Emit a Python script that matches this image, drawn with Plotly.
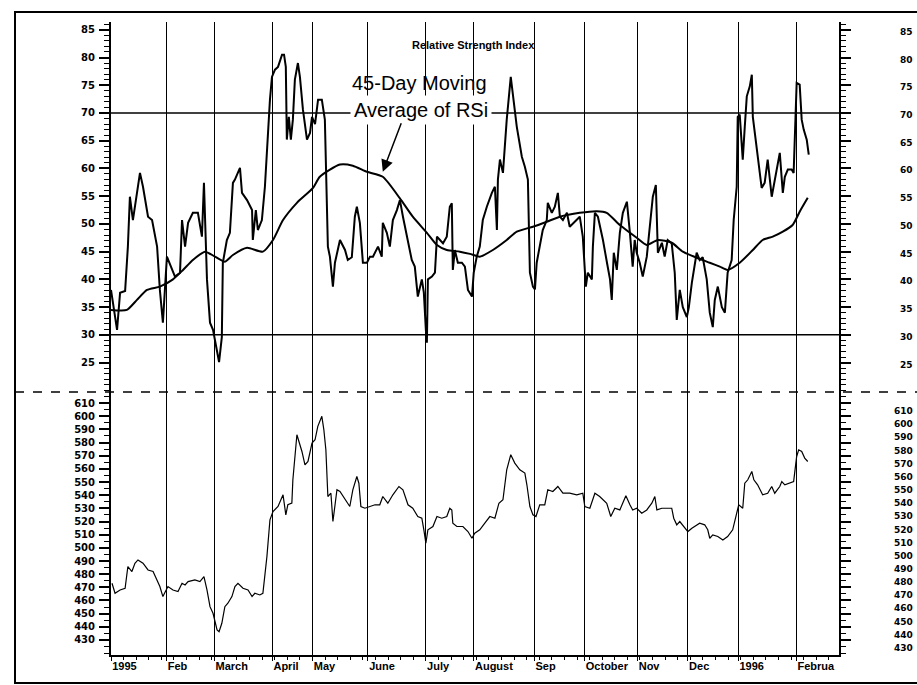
import plotly.graph_objects as go

# ---------------- data (x = trading-session index from 2 Jan 1995) ----------------
month_sessions = [0, 22, 41, 64, 80, 102, 125, 144, 168, 188, 209, 229, 249, 272]
month_labels = ["1995", "Feb", "March", "April", "May", "June", "July", "August",
                "Sep", "October", "Nov", "Dec", "1996", "Februa"]

rsi_ticks = [85, 80, 75, 70, 65, 60, 55, 50, 45, 40, 35, 30, 25]
price_ticks = [610, 600, 590, 580, 570, 560, 550, 540, 530, 520, 510, 500,
               490, 480, 470, 460, 450, 440, 430]
rsi_levels = [70, 30]

rsi_session = [0, 2.4, 3.6, 5.6, 6.7, 7.5, 8.7, 10.3, 11.5, 12.7, 14.7, 16.3, 18.3, 19.4, 20.6,
               22.2, 23.4, 25.4, 27.4, 28.2, 29.4, 30.6, 32.5, 34.5, 36.1, 36.9, 38.1, 39.3, 40.5,
               42.1, 42.9, 44.0, 44.4, 46.0, 47.2, 48.4, 49.2, 51.2, 52.0, 54.0, 56.0, 56.3, 57.5,
               58.3, 59.9, 61.1, 61.9, 63.1, 63.9, 65.1, 66.3, 67.9, 68.7, 69.4, 69.8, 70.6, 71.4,
               72.2, 73.0, 74.2, 75.0, 76.2, 77.8, 79.0, 79.8, 81.0, 82.2, 83.7, 84.9, 85.7, 86.1,
               86.9, 88.1, 88.9, 90.9, 92.9, 94.0, 95.6, 96.8, 97.6, 98.8, 100.0, 101.6, 102.8,
               104.0, 106.0, 107.5, 107.9, 109.5, 110.7, 111.9, 113.5, 114.7, 115.9, 117.5, 119.4,
               120.6, 121.8, 123.4, 124.2, 125.0, 125.4, 125.8, 127.4, 128.6, 129.4, 130.6, 131.8,
               133.3, 134.5, 135.3, 135.7, 136.5, 137.7, 139.3, 140.5, 141.7, 143.3, 144.0, 145.2,
               146.4, 147.6, 149.2, 151.2, 152.4, 153.2, 153.6, 154.4, 155.6, 157.1, 158.7, 159.5,
               161.1, 163.1, 164.3, 165.5, 166.3, 167.5, 168.3, 169.0, 170.2, 171.4, 173.0, 173.4,
               175.0, 176.2, 177.4, 178.2, 179.4, 181.0, 182.1, 183.3, 184.9, 186.1, 187.3, 188.5,
               189.3, 190.9, 191.3, 192.1, 193.3, 195.3, 196.9, 198.1, 198.8, 199.6, 200.8, 202.0,
               203.2, 204.8, 206.0, 207.1, 207.9, 208.7, 209.9, 211.1, 212.7, 213.9, 215.1, 216.3,
               217.1, 218.7, 219.8, 221.0, 222.6, 223.8, 224.6, 225.8, 227.0, 228.6, 229.4, 230.6,
               231.7, 232.5, 233.7, 234.9, 236.5, 237.7, 238.9, 239.7, 240.9, 242.5, 243.7, 244.8,
               246.4, 247.2, 248.4, 248.8, 249.6, 250.8, 251.6, 252.4, 253.6, 254.4, 254.8, 256.0,
               257.1, 258.3, 259.5, 260.7, 262.3, 263.5, 265.5, 266.7, 267.5, 268.7, 270.2, 271.0,
               271.8, 272.2, 273.4, 274.2, 275.0, 276.2, 277.0]
rsi_value = [38.1, 30.9, 37.6, 37.9, 45.9, 54.9, 50.7, 55.6, 59.2, 56.7, 51.3, 50.7, 45.9, 38.1, 32.2,
             44.1, 42.8, 40.5, 41.2, 50.7, 45.9, 50.2, 52.0, 52.0, 47.7, 57.4, 40.0, 32.2, 30.9,
             26.7, 25.1, 29.6, 43.0, 47.1, 48.4, 57.4, 58.0, 60.1, 55.6, 54.3, 52.5, 47.1, 52.5,
             48.9, 50.7, 56.7, 63.4, 72.4, 76.5, 77.8, 78.3, 80.5, 80.5, 78.3, 65.2, 69.3, 65.2,
             68.8, 76.0, 79.0, 76.5, 70.6, 65.2, 66.4, 69.3, 68.0, 72.4, 72.4, 68.8, 54.9, 45.9,
             44.1, 38.7, 43.0, 47.1, 45.3, 43.5, 44.0, 51.3, 53.1, 50.2, 43.0, 43.0, 44.1,
             44.1, 45.9, 44.1, 50.2, 48.4, 45.9, 50.7, 52.5, 54.3, 51.3, 47.7, 43.5,
             42.3, 36.9, 40.0, 37.6, 30.9, 28.6, 40.0, 40.5, 41.2, 47.7, 47.1, 46.5,
             47.7, 53.1, 53.7, 41.7, 45.3, 43.0, 43.0, 42.3, 38.1, 36.9, 41.2, 44.1,
             45.9, 50.7, 53.1, 55.6, 56.7, 48.9, 58.0, 61.6, 59.2, 68.8, 76.5, 73.6,
             67.5, 62.1, 60.3, 58.0, 41.2, 38.7, 38.2, 43.0, 45.9, 48.9, 50.7, 53.8,
             52.0, 53.1, 55.6, 51.3, 50.7, 52.0, 49.5, 50.0, 50.7, 51.3, 47.7, 38.7,
             41.2, 40.0, 45.9, 52.0, 51.3, 47.1, 43.0, 40.0, 36.3, 44.8, 41.7, 48.4,
             52.0, 54.0, 48.4, 42.3, 47.1, 44.8, 43.0, 40.5, 44.1, 50.2, 54.9, 57.0,
             44.8, 46.6, 44.1, 47.1, 46.5, 41.2, 32.7, 38.1, 35.0, 33.2, 35.0, 39.4,
             43.0, 44.8, 43.5, 44.0, 40.0, 34.0, 31.4, 36.3, 38.7, 35.0, 34.0, 41.2,
             43.5, 50.7, 56.7, 69.3, 69.7, 61.6, 67.5, 73.0, 74.8, 76.9, 69.3, 64.6,
             61.0, 56.5, 57.4, 61.6, 54.9, 58.0, 62.8, 55.6, 58.5, 59.8, 59.8, 59.2,
             72.4, 75.4, 75.1, 68.8, 67.0, 65.2, 62.5]

ma_session = [0, 6.3, 10.3, 14.3, 19.4, 24.6, 28.6, 32.5, 37.3, 41.3, 45.2, 48.4, 54.0, 60.3, 64.3,
              68.3, 73.8, 80.2, 82.9, 90.9, 96.0, 101.6, 107.9, 114.7, 119.8, 125.4, 129.4, 133.3,
              138.5, 142.5, 146.4, 151.6, 157.1, 161.1, 167.5, 173.0, 178.2, 186.1, 192.9, 196.8,
              202.0, 208.7, 212.7, 217.1, 222.6, 227.0, 232.5, 237.7, 241.7, 244.8, 249.6, 254.8,
              258.7, 262.7, 266.7, 270.6, 273.4, 276.6]
ma_value = [34.5, 34.5, 36.3, 38.1, 38.7, 40.0, 41.7, 43.5, 45.0, 44.1, 43.2, 44.4, 45.7, 45.0, 47.1,
            50.7, 53.8, 56.5, 58.5, 60.7, 60.5, 59.4, 58.5, 54.6, 51.3, 48.4, 46.2, 45.3,
            45.0, 44.6, 44.1, 45.3, 47.1, 48.6, 49.5, 50.4, 51.3, 52.0, 52.3, 52.0,
            49.8, 47.5, 46.2, 47.1, 46.6, 45.0, 43.9, 43.0, 42.3, 41.7, 43.0, 45.3,
            47.1, 47.7, 48.6, 49.8, 52.2, 54.7]

price_session = [0.4, 1.6, 3.6, 5.6, 6.7, 8.3, 9.5, 10.7, 12.7, 14.7, 16.7, 18.3, 19.4, 20.6, 21.8,
                 22.6, 24.6, 26.6, 28.2, 29.4, 30.6, 33.3, 35.3, 36.9, 38.1, 39.3, 40.5, 42.1, 42.9,
                 44.0, 45.2, 46.4, 48.0, 49.2, 50.4, 52.4, 54.4, 56.0, 57.1, 59.1, 60.3, 61.9, 63.1,
                 64.3, 66.3, 68.3, 69.4, 70.2, 71.8, 72.2, 73.8, 75.8, 77.0, 78.2, 79.8, 81.0, 82.1,
                 83.7, 84.5, 85.3, 86.1, 87.3, 88.1, 89.7, 90.9, 92.9, 94.8, 96.0, 97.6, 98.4, 99.2,
                 100.8, 102.8, 104.8, 106.7, 107.9, 109.9, 111.9, 114.3, 115.9, 117.9, 119.8, 121.8,
                 123.4, 124.2, 125.0, 125.8, 127.8, 129.4, 131.3, 133.3, 134.5, 135.3, 135.7, 137.3,
                 139.7, 141.7, 143.3, 144.4, 146.4, 148.4, 150.4, 152.4, 154.0, 155.6, 157.1, 158.7,
                 160.3, 162.3, 164.3, 165.1, 166.3, 167.5, 168.7, 170.2, 172.2, 173.4, 175.4, 177.4,
                 179.4, 182.1, 184.9, 187.3, 188.1, 190.1, 192.1, 194.0, 196.8, 198.4, 200.0, 202.0,
                 204.4, 206.0, 207.1, 208.7, 210.7, 212.7, 214.7, 215.9, 216.7, 218.7, 220.6, 222.6,
                 223.4, 224.6, 225.8, 227.8, 229.0, 230.6, 232.5, 233.7, 235.7, 236.9, 237.7, 238.9,
                 240.9, 242.9, 244.8, 246.8, 248.4, 249.2, 250.8, 251.6, 252.8, 254.4, 255.2, 256.7,
                 258.7, 260.7, 262.3, 263.5, 265.5, 266.3, 267.5, 269.4, 271.0, 271.4, 272.2, 273.0,
                 274.2, 275.4, 276.6]
price_value = [473.1, 465.5, 468.0, 469.3, 485.8, 482.0, 488.3, 490.8, 488.3, 483.2, 482.0, 475.6,
               470.6, 463.0, 468.0, 470.6, 468.0, 466.8, 473.1, 471.8, 474.4, 475.6, 474.4, 478.2,
               468.0, 455.3, 450.3, 437.6, 436.3, 442.7, 455.3, 457.9, 463.0, 470.6, 473.1, 469.3,
               468.0, 463.0, 465.5, 464.2, 465.5, 493.4, 521.3, 527.6, 531.4, 540.3, 525.1, 532.7,
               534.0, 551.7, 585.9, 573.2, 563.1, 565.6, 579.6, 582.1, 592.3, 599.9, 589.7, 574.5,
               539.0, 541.5, 520.0, 544.1, 542.8, 536.5, 531.4, 544.1, 554.2, 549.1, 531.4, 530.1,
               531.4, 532.7, 532.7, 539.0, 533.9, 540.3, 546.6, 544.1, 532.7, 530.1, 523.8, 522.5,
               513.7, 503.5, 513.7, 516.2, 523.8, 522.5, 523.8, 530.1, 528.8, 518.7, 516.2, 516.2,
               512.4, 507.3, 511.1, 513.7, 518.7, 523.8, 522.5, 533.9, 536.5, 559.3, 570.7, 564.4,
               559.3, 556.8, 547.9, 531.4, 525.1, 523.8, 532.7, 532.7, 544.1, 542.8, 546.6, 541.5,
               541.5, 540.3, 541.5, 531.4, 530.1, 541.5, 539.0, 533.9, 523.8, 530.1, 528.8, 539.5,
               532.7, 528.8, 530.1, 526.3, 528.8, 533.9, 539.0, 528.8, 530.1, 530.1, 530.1, 522.5,
               517.5, 520.0, 514.9, 512.4, 514.9, 517.5, 518.7, 517.5, 513.7, 507.3, 509.8, 508.6,
               506.0, 508.6, 513.7, 526.3, 532.7, 530.1, 549.1, 551.7, 558.0, 551.7, 547.9, 540.3,
               541.5, 546.6, 541.5, 546.6, 550.4, 547.9, 549.1, 550.4, 556.8, 569.4, 574.5, 573.2,
               568.2, 565.6]

assert len(rsi_session) == len(rsi_value), (len(rsi_session), len(rsi_value))
assert len(ma_session) == len(ma_value), (len(ma_session), len(ma_value))
assert len(price_session) == len(price_value), (len(price_session), len(price_value))

# ---------------- figure ----------------
LAB = "Liberation Sans, Arial, sans-serif"
NUM = "DejaVu Sans, Liberation Sans, sans-serif"
W, H = 917, 685
ML, MR, MT, MB = 111, 0, 22, 30
XDOM = [0, 0.9032]
SPLIT = 0.4155
XR = [0, 289]
RSI_RANGE = [19.7, 86.4]
PRICE_RANGE = [418.6, 618.4]

fig = go.Figure()

fig.add_trace(go.Scatter(x=rsi_session, y=rsi_value, mode="lines",
                         line=dict(color="black", width=2), xaxis="x", yaxis="y",
                         name="RSI", showlegend=False))
fig.add_trace(go.Scatter(x=ma_session, y=ma_value, mode="lines",
                         line=dict(color="black", width=2, shape="spline", smoothing=0.6),
                         xaxis="x", yaxis="y", name="45-Day MA", showlegend=False))
fig.add_trace(go.Scatter(x=price_session, y=price_value, mode="lines",
                         line=dict(color="black", width=1.2), xaxis="x2", yaxis="y2",
                         name="Price", showlegend=False))

numfont = dict(family=NUM, size=10, color="black", weight="bold")
rightfont = dict(family=NUM, size=9, color="black", weight="bold")

fig.update_layout(
    width=W, height=H, autosize=False,
    margin=dict(l=ML, r=MR, t=MT, b=MB, pad=0),
    paper_bgcolor="white", plot_bgcolor="white",
    showlegend=False,
    xaxis=dict(domain=XDOM, range=XR, anchor="y", tickmode="array",
               tickvals=month_sessions, showticklabels=False, ticks="",
               showgrid=True, gridcolor="black", gridwidth=1, zeroline=False,
               showline=False),
    yaxis=dict(domain=[SPLIT, 1], range=RSI_RANGE, anchor="x", tickmode="array",
               tickvals=rsi_ticks, ticks="outside", ticklen=10, tickwidth=1.5,
               tickcolor="black", showgrid=False, zeroline=False,
               showline=True, linecolor="black", linewidth=2, mirror="ticks",
               tickfont=numfont, ticklabelstandoff=2,
               minor=dict(dtick=1, tick0=0, ticks="outside", ticklen=5, tickwidth=1,
                          tickcolor="black", showgrid=False)),
    xaxis2=dict(domain=XDOM, range=XR, anchor="y2", tickmode="array",
                tickvals=month_sessions, ticktext=month_labels,
                ticklabelposition="outside right", ticks="outside", ticklen=4,
                tickcolor="black", showgrid=True, gridcolor="black", gridwidth=1,
                zeroline=False, showline=True, linecolor="black", linewidth=1.5,
                tickfont=dict(family=LAB, size=11, color="black", weight="bold"),
                minor=dict(dtick=5, tick0=0, ticks="outside", ticklen=3, tickcolor="black",
                           showgrid=False)),
    yaxis2=dict(domain=[0, SPLIT], range=PRICE_RANGE, anchor="x2", tickmode="array",
                tickvals=price_ticks, ticks="outside", ticklen=10, tickwidth=1.5,
                tickcolor="black", showgrid=False, zeroline=False,
                showline=True, linecolor="black", linewidth=2, mirror="ticks",
                tickfont=numfont, ticklabelstandoff=2,
                minor=dict(dtick=5, tick0=0, ticks="outside", ticklen=5, tickwidth=1,
                           tickcolor="black", showgrid=False)),
)

# overbought / oversold reference lines
for lvl in rsi_levels:
    fig.add_shape(type="line", xref="x domain", yref="y", x0=0, x1=1.01, y0=lvl, y1=lvl,
                  line=dict(color="black", width=1.5), layer="below")


def px2paper_x(px):
    return (px - ML) / (W - ML - MR)


def px2paper_y(py):
    return (H - MB - py) / (H - MT - MB)


# right-hand scale labels (kept just inside the page edge)
for t in rsi_ticks:
    fig.add_annotation(xref="paper", yref="y", x=px2paper_x(915), y=t, yshift=-2,
                       xanchor="right", yanchor="middle", text=str(t), showarrow=False,
                       font=rightfont)
for t in price_ticks:
    fig.add_annotation(xref="paper", yref="y2", x=px2paper_x(915), y=t, yshift=-8,
                       xanchor="right", yanchor="middle", text=str(t), showarrow=False,
                       font=rightfont)

# panel separator (dashed) and outer frame of the scanned page
fig.add_shape(type="line", xref="paper", yref="paper", x0=px2paper_x(15), x1=1.0,
              y0=SPLIT, y1=SPLIT, line=dict(color="black", width=1.5, dash="dash"))
fig.add_shape(type="rect", xref="paper", yref="paper", x0=px2paper_x(15), x1=1.02,
              y0=px2paper_y(683), y1=px2paper_y(12), line=dict(color="black", width=2))

# title
fig.add_annotation(xref="paper", yref="paper", x=px2paper_x(473), y=px2paper_y(37),
                   text="Relative Strength Index", showarrow=False,
                   font=dict(family=LAB, size=11, color="black", weight="bold"))

# callout text and arrow
fig.add_annotation(xref="x", yref="y", x=94.8, y=75.4, xanchor="left", yanchor="middle",
                   text="45-Day Moving", showarrow=False,
                   font=dict(family=LAB, size=20, color="black"))
fig.add_annotation(xref="x", yref="y", x=94.8, y=70.6, xanchor="left", yanchor="middle",
                   text="Average of RSi", showarrow=False, bgcolor="white", borderpad=3,
                   font=dict(family=LAB, size=20, color="black"))
fig.add_annotation(xref="x", yref="y", x=107.9, y=59.4, text="", showarrow=True,
                   axref="pixel", ayref="pixel", ax=19, ay=-50,
                   arrowhead=2, arrowsize=1.6, arrowwidth=1.5, arrowcolor="black")

fig.write_html("out.html",
               config={"displayModeBar": False},
               post_script="document.body.style.margin='0';"
                           "document.body.style.overflow='hidden';")
